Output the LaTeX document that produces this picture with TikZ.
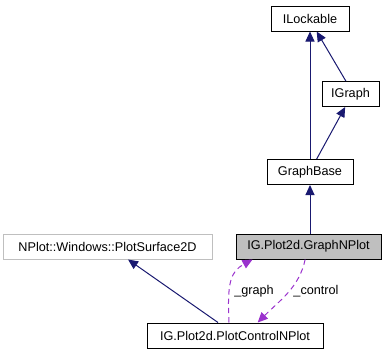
\documentclass[tikz,border=0pt]{standalone}
\usepackage{fontspec}
\setmainfont{Liberation Sans}
\usetikzlibrary{arrows.meta}

\definecolor{edgeblue}{HTML}{191970}
\definecolor{usepurple}{HTML}{9A32CD}
\definecolor{boxgray}{HTML}{BFBFBF}

\begin{document}
\begin{tikzpicture}[
x=0.75pt, y=-0.75pt,
font=\fontsize{9.5}{11}\selectfont,
cls/.style={draw=black, fill=white, line width=0.75pt, minimum height=18.75pt, inner sep=0pt},
ext/.style={cls, draw=boxgray},
cur/.style={cls, fill=boxgray},
inh/.style={draw=edgeblue, line width=0.75pt, -{Triangle[length=7.5pt,width=6.75pt]}},
uses/.style={draw=usepurple, line width=0.75pt, dash pattern=on 4pt off 3pt, -{Triangle[length=7.5pt,width=6.75pt]}},
]
\useasboundingbox (0,0) rectangle (389,355);

% classes
\node[cls, minimum width=58.5pt] (lockable) at (310,18.5) {ILockable};
\node[cls, minimum width=42.75pt] (igraph) at (350.5,94) {IGraph};
\node[cls, minimum width=64.5pt] (graphbase) at (310,172) {GraphBase};
\node[cur, minimum width=108.75pt] (graphnplot) at (308.5,246.5) {IG.Plot2d.GraphNPlot};
\node[ext, minimum width=156.75pt] (surface) at (107.5,246.5) {NPlot::Windows::PlotSurface2D};
\node[cls, minimum width=132pt] (control) at (235,335.5) {IG.Plot2d.PlotControlNPlot};

% inheritance
\draw[inh] (graphbase) -- (lockable);
\draw[inh] ([xshift=-3.5pt]igraph.north) -- ([xshift=5pt]lockable.south);
\draw[inh] ([xshift=5pt]graphbase.north) -- ([xshift=-4pt]igraph.south);
\draw[inh] (graphnplot.north -| graphbase.south) -- (graphbase.south);
\draw[inh] ([xshift=-12.75pt]control.north) -- ([xshift=15.4pt]surface.south);

% usage
\draw[uses] ([xshift=-4.5pt]control.north) .. controls +(-2,-40) and +(-22,12) .. ([xshift=-42pt]graphnplot.south);
\draw[uses] ([xshift=-2.5pt]graphnplot.south) .. controls +(-6,28) and +(22,-22) .. ([xshift=17pt]control.north);
\node (lgraph) at (254,291) {\_graph};
\node (lcontrol) at (316,291) {\_control};
\end{tikzpicture}
\end{document}
